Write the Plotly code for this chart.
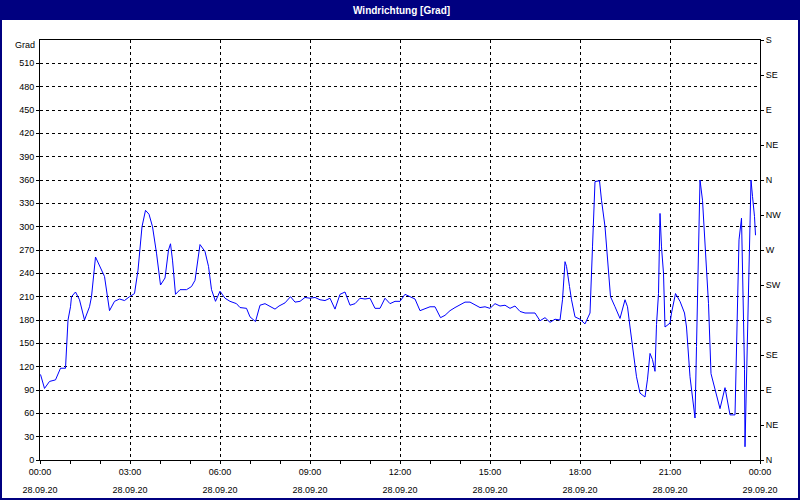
import plotly.graph_objects as go
from datetime import datetime, timedelta

DAY = "2020-09-28"
times = ["00:01","00:09","00:19","00:31","00:41","00:51","00:56","01:01","01:03","01:11",
         "01:19","01:29","01:39","01:43","01:51","01:59","02:09","02:19","02:29","02:39",
         "02:49","02:59","03:09","03:16","03:24","03:31","03:38","03:45","03:53","04:01",
         "04:10","04:17","04:21","04:25","04:31","04:40","04:53","05:03","05:10","05:20",
         "05:30","05:37","05:43","05:51","06:00","06:10","06:20","06:33","06:40","06:53",
         "07:00","07:11","07:20","07:30","07:40","07:50","07:58","08:10","08:21","08:30",
         "08:40","08:50","09:00","09:10","09:20","09:30","09:40","09:50","10:00","10:10",
         "10:20","10:30","10:40","10:50","11:00","11:10","11:20","11:30","11:40","11:50",
         "12:00","12:10","12:20","12:30","12:40","12:50","13:00","13:10","13:21","13:30",
         "13:40","13:50","14:00","14:10","14:20","14:30","14:40","14:50","15:00","15:10",
         "15:20","15:30","15:40","15:50","16:00","16:10","16:20","16:30","16:40","16:50",
         "17:00","17:10","17:20","17:25","17:30","17:33","17:39","17:43","17:50","18:00",
         "18:10","18:20","18:25","18:30","18:39","18:43","18:50","18:57","19:01","19:10",
         "19:20","19:30","19:35","19:40","19:47","19:53","20:00","20:10","20:15","20:20",
         "20:25","20:30","20:33","20:37","20:40","20:43","20:47","20:50","21:00","21:03",
         "21:11","21:20","21:29","21:33","21:40","21:45","21:50","21:53","21:57","22:00",
         "22:05","22:11","22:17","22:22","22:30","22:40","22:50","23:00","23:10","23:13",
         "23:18","23:23","23:25","23:29","23:30","23:33","23:38","23:42","23:45","23:49",
         "23:51"]
direction = [110, 92, 101, 103, 118, 118, 180, 197, 210, 216,
             206, 180, 197, 210, 261, 249, 236, 192, 204, 207,
             205, 210, 214, 244, 300, 321, 316, 300, 266, 225,
             234, 270, 278, 257, 213, 219, 219, 223, 231, 277,
             268, 249, 219, 204, 217, 208, 204, 201, 196, 195,
             184, 178, 199, 201, 198, 194, 198, 202, 210, 203,
             204, 209, 208, 209, 206, 205, 208, 194, 213, 216,
             199, 201, 208, 207, 208, 195, 195, 208, 201, 204,
             204, 213, 210, 207, 192, 194, 197, 197, 183, 186,
             192, 196, 200, 203, 203, 199, 196, 197, 195, 201,
             198, 199, 195, 198, 191, 189, 189, 189, 179, 183,
             177, 181, 180, 206, 255, 249, 223, 206, 184, 181,
             175, 189, 274, 358, 359, 334, 300, 240, 210, 197,
             182, 206, 197, 171, 133, 107, 86, 81, 104, 137,
             129, 114, 174, 214, 317, 274, 240, 171, 176, 189,
             214, 204, 189, 171, 107, 81, 54, 146, 270, 360,
             334, 270, 201, 111, 92, 66, 93, 58, 58, 133,
             283, 311, 236, 116, 17, 107, 249, 360, 339, 313,
             289]

x_tick_times = ["00:00", "03:00", "06:00", "09:00", "12:00", "15:00", "18:00", "21:00", "00:00"]
x_tick_dates = ["28.09.20"] * 8 + ["29.09.20"]
y_ticks = list(range(0, 511, 30))
compass_vals = list(range(0, 541, 45))
compass_labels = ["N", "NE", "E", "SE", "S", "SW", "W", "NW", "N", "NE", "E", "SE", "S"]

x = [f"{DAY} {t}" for t in times]
t0 = datetime(2020, 9, 28)
tickvals = [t0 + timedelta(hours=3 * i) for i in range(9)]
xrange = [t0, t0 + timedelta(days=1)]

W, H = 800, 500
ML, MR, MT, MB = 40, 40, 40, 40
PW, PH = W - ML - MR, H - MT - MB

def px_x(p):
    return (p - ML) / PW

def px_y(p):
    return (H - MB - p) / PH

NAVY = "#000080"
FONT = "Liberation Sans"

fig = go.Figure()
fig.add_trace(go.Scatter(x=x, y=direction, mode="lines",
                         line=dict(color="#0000FF", width=1), hoverinfo="skip",
                         xaxis="x", yaxis="y"))
fig.add_trace(go.Scatter(x=x, y=direction, mode="lines", opacity=0,
                         line=dict(width=0), hoverinfo="skip", showlegend=False,
                         xaxis="x2", yaxis="y2"))

fig.update_layout(
    width=W, height=H,
    margin=dict(l=ML, r=MR, t=MT, b=MB, autoexpand=False),
    paper_bgcolor="white", plot_bgcolor="white",
    showlegend=False,
    font=dict(family=FONT, size=9, color="black"),
    xaxis=dict(
        type="date", range=xrange, tickvals=tickvals, ticktext=x_tick_times,
        showgrid=True, gridcolor="black", gridwidth=1, griddash="3px,3px",
        showline=True, linecolor="black", linewidth=1, mirror=True,
        ticks="outside", ticklen=3, tickcolor="black",
        minor=dict(dtick=3600000, ticks="outside", ticklen=3, tickcolor="black", showgrid=False),
        zeroline=False, tickangle=0,
        tickfont=dict(family=FONT, size=9, color="black"),
    ),
    xaxis2=dict(
        type="date", range=xrange, overlaying="x", anchor="y", side="bottom",
        tickvals=tickvals, ticktext=x_tick_dates, showgrid=False, showline=False,
        ticks="", ticklabelstandoff=23, zeroline=False, tickangle=0,
        tickfont=dict(family=FONT, size=9, color="black"),
    ),
    yaxis=dict(
        range=[0, 540], tickvals=y_ticks,
        showgrid=True, gridcolor="black", gridwidth=1, griddash="3px,3px",
        showline=True, linecolor="black", linewidth=1, mirror=True,
        ticks="outside", ticklen=3, tickcolor="black", zeroline=False,
        tickfont=dict(family=FONT, size=9, color="black"),
    ),
    yaxis2=dict(
        range=[0, 540], overlaying="y", side="right", anchor="x",
        tickvals=compass_vals, ticktext=compass_labels, showgrid=False,
        showline=True, linecolor="black", linewidth=1,
        ticks="outside", ticklen=3, tickcolor="black", zeroline=False,
        tickfont=dict(family=FONT, size=9, color="black"),
    ),
    shapes=[
        dict(type="rect", xref="paper", yref="paper",
             x0=px_x(0), x1=px_x(W), y0=px_y(20), y1=px_y(0),
             fillcolor=NAVY, line=dict(width=0), layer="above"),
        dict(type="rect", xref="paper", yref="paper",
             x0=px_x(0), x1=px_x(W), y0=px_y(H), y1=px_y(0),
             fillcolor="rgba(0,0,0,0)", line=dict(color=NAVY, width=4), layer="above"),
    ],
    annotations=[
        dict(text="<b>Windrichtung [Grad]</b>", xref="paper", yref="paper",
             x=px_x(401), y=px_y(10), xanchor="center", yanchor="middle",
             showarrow=False, font=dict(family=FONT, size=10, color="white")),
        dict(text="Grad", xref="paper", yref="paper",
             x=px_x(37), y=px_y(45), xanchor="right", yanchor="middle",
             showarrow=False, font=dict(family=FONT, size=9, color="black")),
    ],
)

fig.write_html(
    "out.html",
    config={"displayModeBar": False, "staticPlot": True},
    post_script="document.body.style.margin='0';document.body.style.padding='0';document.body.style.overflow='hidden';",
)
